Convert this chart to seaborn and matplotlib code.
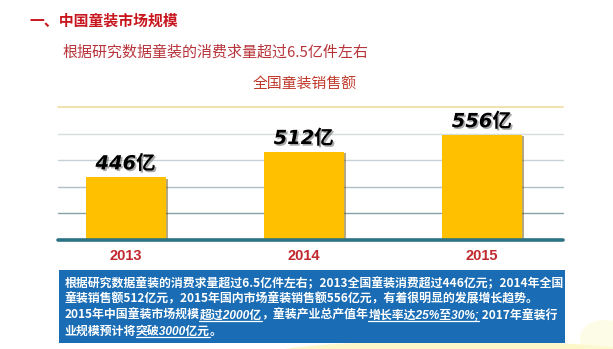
import matplotlib
matplotlib.use('Agg')
import matplotlib.pyplot as plt
import matplotlib.patheffects as pe
from matplotlib.patches import Rectangle, Ellipse
from matplotlib.lines import Line2D
import seaborn as sns
import pandas as pd

# ---------------- data ----------------
years = ['2013', '2014', '2015']
sales = [446, 512, 556]
unit = '亿'

title = '一、中国童装市场规模'
subtitle = '根据研究数据童装的消费求量超过6.5亿件左右'
chart_title = '全国童装销售额'
note_line1 = [('根据研究数据童装的消费求量超过6.5亿件左右；2013全国童装消费超过446亿元；2014年全国', False)]
note_line2 = [('童装销售额512亿元，2015年国内市场童装销售额556亿元，有着很明显的发展增长趋势。', False)]
note_line3 = [('2015年中国童装市场规模', False), ('超过2000亿', True), ('，童装产业总产值年', False),
              ('增长率达25%至30%;', True), (' 2017年童装行', False)]
note_line4 = [('业规模预计将', False), ('突破3000亿元', True), ('。', False)]
note_lines = [note_line1, note_line2, note_line3, note_line4]

# ---------------- layout ----------------
W, H = 613, 349
sns.set_style('white')
plt.rcParams['font.family'] = ['Noto Sans CJK SC', 'DejaVu Sans']
fig = plt.figure(figsize=(W / 100, H / 100), dpi=100)
fig.patch.set_facecolor('white')


def fx(px):
    return px / W


def fy(py):
    return 1 - py / H


# soft yellow glow under the note box
fig.add_artist(Ellipse((fx(455), fy(353)), fx(360), 24 / H, transform=fig.transFigure,
                       facecolor='#fbf6b8', edgecolor='none', alpha=0.75, zorder=0))
fig.add_artist(Ellipse((fx(605), fy(338)), fx(50), 36 / H, transform=fig.transFigure,
                       facecolor='#fdfad6', edgecolor='none', alpha=0.6, zorder=0))

ax_l, ax_r, ax_t, ax_b = 58, 563, 107.3, 240
ax = fig.add_axes([fx(ax_l), fy(ax_b), fx(ax_r - ax_l), (ax_b - ax_t) / H])
ax.set_facecolor('none')

df = pd.DataFrame({'year': years, 'sales': sales})
sns.barplot(data=df, x='year', y='sales', color='#FFC000', saturation=1, width=0.45,
            ax=ax, zorder=3)

ymin, ymax = 282, 627.5
ax.set_ylim(ymin, ymax)
ax.set_xlim(-0.38, 2.455)

# gridlines
step = (ymax - ymin) / 5
grid_colors = ['#2e7286', '#86a0a8', '#aec0c4', '#c6d2d6', '#d6dde0', '#eedca0']
grid_lw = [2.6, 1.0, 1.0, 1.0, 1.0, 1.2]
for k in range(6):
    ax.axhline(ymin + k * step, color=grid_colors[k], lw=grid_lw[k],
               zorder=5 if k == 0 else 1, clip_on=False)

for p in ax.patches:
    p.set_edgecolor('none')
    p.set_path_effects([pe.SimplePatchShadow(offset=(1.6, -1.2), shadow_rgbFace='#6e5200', alpha=0.5),
                        pe.Normal()])

for i, v in enumerate(sales):
    ax.annotate(f'{v}{unit}', xy=(i, v), xytext=(0, 5.5), textcoords='offset points',
                ha='center', va='baseline', fontsize=14, fontweight='bold', fontstyle='oblique',
                family=['DejaVu Sans', 'Noto Sans CJK SC'], color='black', zorder=6,
                path_effects=[pe.withSimplePatchShadow(offset=(1.2, -1.2), shadow_rgbFace='#444444',
                                                       alpha=0.45)])

for s in ax.spines.values():
    s.set_visible(False)
ax.set_xlabel('')
ax.set_ylabel('')
ax.set_yticks([])
ax.tick_params(axis='x', length=0, pad=6.5, labelcolor='#c0282d', labelsize=10.5)
for lbl in ax.get_xticklabels():
    lbl.set_fontweight('bold')
    lbl.set_family(['Liberation Sans', 'DejaVu Sans'])

# ---------------- texts ----------------
fig.text(fx(29), fy(21), title, ha='left', va='center', fontsize=10.7, fontweight='bold',
         color='#c8161e')
fig.text(fx(62.5), fy(52), subtitle, ha='left', va='center', fontsize=10.8,
         color='#b8333a')
fig.text(fx(253), fy(85), chart_title, ha='left', va='center', fontsize=10.7,
         color='#c0392b')

# note box
fig.add_artist(Rectangle((fx(58.6), fy(343)), fx(565 - 58.6), (343 - 270) / H,
                         transform=fig.transFigure, facecolor='#1a6db5', edgecolor='none', zorder=1))

renderer = fig.canvas.get_renderer()
baselines = [287.5, 302.8, 318.6, 334.5]
fs = 8.6
for segs, by in zip(note_lines, baselines):
    x = 64.5
    for txt, emph in segs:
        kw = dict(fontsize=fs, fontweight='bold', color='white', ha='left', va='baseline', zorder=2)
        if emph:
            kw.update(family=['Liberation Sans', 'Noto Sans CJK SC'], fontstyle='italic')
        t = fig.text(fx(x), fy(by), txt, **kw)
        bb = t.get_window_extent(renderer)
        if emph:
            fig.add_artist(Line2D([bb.x0 / W, bb.x1 / W], [fy(by + 2.2), fy(by + 2.2)],
                                  transform=fig.transFigure, color='white', lw=0.9, zorder=2))
        x = bb.x1

fig.savefig('out.png', dpi=100, facecolor='white')
